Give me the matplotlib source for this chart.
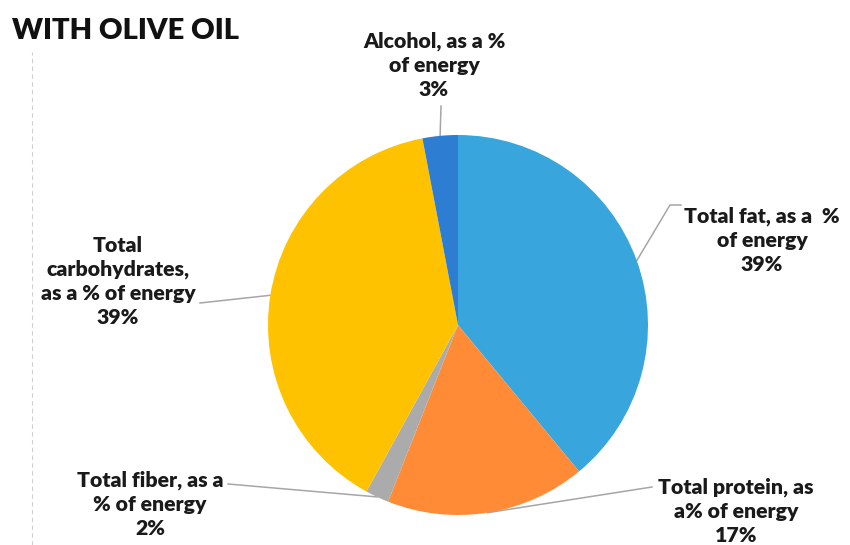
import numpy as np
import matplotlib.pyplot as plt

labels = [
    "Total fat, as a  %\nof energy",
    "Total protein, as\na% of energy",
    "Total fiber, as a\n% of energy",
    "Total\ncarbohydrates,\nas a % of energy",
    "Alcohol, as a %\nof energy",
]
values = [39, 17, 2, 39, 3]
colors = ["#38A5DC", "#FF8B36", "#ABABAB", "#FFC200", "#2D7DD2"]

W, H = 850, 545
plt.rcParams["font.family"] = ["Lato", "DejaVu Sans"]

fig = plt.figure(figsize=(W / 100, H / 100), dpi=100)
ax = fig.add_axes([0, 0, 1, 1])

cx, cy, r = 458, H - 325, 190
wedges, _ = ax.pie(values, colors=colors, startangle=90, counterclock=False,
                   center=(cx, cy), radius=r, wedgeprops=dict(linewidth=0))
ax.set_xlim(0, W)
ax.set_ylim(0, H)
ax.set_aspect("equal")
ax.axis("off")

# label centre, then the elbow/end of the leader line on the text side
text_pos = [(762, 240), (736, 511), (150, 504), (118, 281.5), (434, 65)]
leader = [
    [(681, 205), (670, 205)],
    [(652, 487)],
    [(228, 484)],
    [(200, 303)],
    [(441, 106)],
]

for w, lab, v, tp, pts in zip(wedges, labels, values, text_pos, leader):
    mid = np.deg2rad((w.theta1 + w.theta2) / 2)
    ex, ey = cx + r * np.cos(mid), cy + r * np.sin(mid)
    xs = [p[0] for p in pts] + [ex]
    ys = [H - p[1] for p in pts] + [ey]
    ax.plot(xs, ys, color="#A6A6A6", lw=1.1, zorder=0)
    ax.text(tp[0], H - tp[1], f"{lab}\n{v}%", ha="center", va="center",
            fontsize=15.3, fontweight="heavy", color="#1A1A1A",
            linespacing=1.3)

ax.text(12, H - 31, "WITH OLIVE OIL", ha="left", va="center",
        fontsize=21, fontweight="heavy", color="#111111")

# faint dashed frame edge on the left
ax.plot([32, 32], [0, H - 52], color="#CFCFCF", lw=0.8, ls=(0, (4, 3)))

fig.savefig("out.png", dpi=100)
